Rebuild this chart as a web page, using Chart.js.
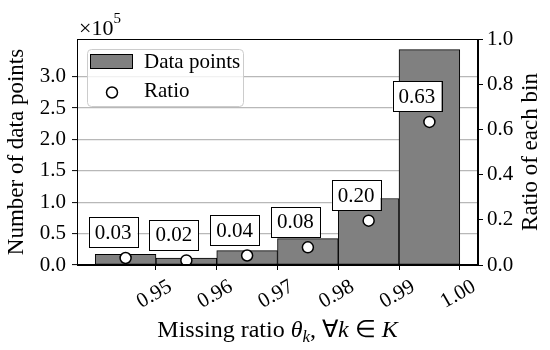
<!DOCTYPE html>
<html>
<head>
<meta charset="utf-8">
<script src="https://cdn.jsdelivr.net/npm/chart.js@4.4.0/dist/chart.umd.min.js"></script>
<style>
  html, body { margin: 0; padding: 0; background: #fff; }
  #wrap { width: 550px; height: 350px; }
</style>
</head>
<body>
<div id="wrap"><canvas id="chart" width="550" height="350"></canvas></div>
<script>
// Chart data
const binCenters = [0.945, 0.955, 0.965, 0.975, 0.985, 0.995];
const pointCounts = [17000, 11000, 23000, 42000, 106000, 343000];
const binRatios = [0.031, 0.020, 0.042, 0.078, 0.196, 0.633];
const xTickValues = [0.95, 0.96, 0.97, 0.98, 0.99, 1.00];
const countTickValues = [0, 50000, 100000, 150000, 200000, 250000, 300000];
const ratioTickValues = [0, 0.2, 0.4, 0.6, 0.8, 1.0];

const SERIF = "'Liberation Serif', 'Times New Roman', serif";
const BAR_GRAY = '#808080';

// Helpers
const setTicks = (values) => (scale) => {
    scale.ticks = values.map(v => ({ value: v }));
};

// draws a run of [text, font, dy] pieces starting at x
const drawRich = (ctx, parts, x, y) => {
    parts.forEach(([txt, font, dy]) => {
        ctx.font = font;
        ctx.fillText(txt, x, y + (dy || 0));
        x += ctx.measureText(txt).width;
    });
};
const richWidth = (ctx, parts) => {
    let w = 0;
    parts.forEach(([txt, font]) => {
        ctx.font = font;
        w += ctx.measureText(txt).width;
    });
    return w;
};

// Overlay: frame, value boxes, legend, extra titles
const overlayPlugin = {
    id: 'overlay',
    afterDatasetsDraw(chart) {
        const { ctx, chartArea: a } = chart;
        ctx.save();

        // full frame around plot
        ctx.strokeStyle = '#000';
        ctx.lineWidth = 1;
        ctx.strokeRect(a.left + 0.5, a.top + 0.5, a.right - a.left - 1, a.bottom - a.top - 1);

        // ratio value boxes
        const meta = chart.getDatasetMeta(1);
        ctx.font = `21px ${SERIF}`;
        ctx.textAlign = 'center';
        ctx.textBaseline = 'middle';
        meta.data.forEach((pt, i) => {
            const txt = binRatios[i].toFixed(2);
            const cx = pt.x - 12.5;
            const cy = pt.y - 25.5;
            const w = ctx.measureText(txt).width + 12;
            const h = 30;
            ctx.fillStyle = '#fff';
            ctx.fillRect(cx - w / 2, cy - h / 2, w, h);
            ctx.strokeRect(Math.round(cx - w / 2) + 0.5, Math.round(cy - h / 2) + 0.5, Math.round(w), h);
            ctx.fillStyle = '#000';
            ctx.fillText(txt, cx, cy + 1);
        });
        ctx.restore();
    },
    afterDraw(chart) {
        const { ctx, chartArea: a, scales } = chart;
        ctx.save();

        // legend
        const lx = 87, ly = 49, lw = 156, lh = 57;
        ctx.beginPath();
        ctx.roundRect(lx + 0.5, ly + 0.5, lw, lh, 4);
        ctx.fillStyle = 'rgba(255,255,255,0.8)';
        ctx.fill();
        ctx.strokeStyle = '#cccccc';
        ctx.lineWidth = 1;
        ctx.stroke();

        ctx.fillStyle = BAR_GRAY;
        ctx.fillRect(90, 54, 43, 15);
        ctx.strokeStyle = '#000';
        ctx.strokeRect(90.5, 54.5, 42, 14);

        ctx.beginPath();
        ctx.arc(112, 92.5, 5.5, 0, Math.PI * 2);
        ctx.fillStyle = '#fff';
        ctx.fill();
        ctx.lineWidth = 1.5;
        ctx.stroke();

        ctx.fillStyle = '#000';
        ctx.font = `21px ${SERIF}`;
        ctx.textAlign = 'left';
        ctx.textBaseline = 'middle';
        ctx.fillText('Data points', 144, 62);
        ctx.fillText('Ratio', 144, 91);

        // x tick labels, rotated and centred under the ticks
        const xs = scales.x;
        xTickValues.forEach(v => {
            const px = xs.getPixelForValue(v);
            ctx.save();
            ctx.translate(px - 2, 293.5);
            ctx.rotate(-Math.PI / 6);
            ctx.textAlign = 'center';
            ctx.textBaseline = 'middle';
            ctx.font = `21px ${SERIF}`;
            ctx.fillText(v.toFixed(2), 0, 1);
            ctx.restore();
        });

        // right axis title
        ctx.save();
        ctx.translate(531, (a.top + a.bottom) / 2);
        ctx.rotate(-Math.PI / 2);
        ctx.textAlign = 'center';
        ctx.textBaseline = 'middle';
        ctx.font = `23px ${SERIF}`;
        ctx.fillText('Ratio of each bin', 0, 0);
        ctx.restore();

        // x axis title with math parts
        const reg = `24px ${SERIF}`;
        const ita = `italic 24px ${SERIF}`;
        const sub = `italic 17px ${SERIF}`;
        const parts = [
            ['Missing ratio ', reg],
            ['\u03B8', ita],
            ['k', sub, 5],
            [', ', reg],
            ['\u2200', reg],
            ['k', ita],
            [' \u2208 ', reg],
            ['K', ita]
        ];
        ctx.textAlign = 'left';
        ctx.textBaseline = 'alphabetic';
        const tw = richWidth(ctx, parts);
        drawRich(ctx, parts, (a.left + a.right) / 2 - tw / 2, 337);

        // multiplier above left axis
        drawRich(ctx, [['\u00D710', `22px ${SERIF}`], ['5', `15px ${SERIF}`, -12]], 79, 35);

        ctx.restore();
    }
};

const ctx = document.getElementById('chart').getContext('2d');
const chart = new Chart(ctx, {
    data: {
        datasets: [{
            type: 'bar',
            label: 'Data points',
            data: binCenters.map((x, i) => ({ x, y: pointCounts[i] })),
            backgroundColor: BAR_GRAY,
            borderColor: '#000',
            borderWidth: 1,
            borderSkipped: false,
            barPercentage: 1,
            categoryPercentage: 1,
            xAxisID: 'x',
            yAxisID: 'y',
            order: 2
        }, {
            type: 'line',
            label: 'Ratio',
            data: binCenters.map((x, i) => ({ x, y: binRatios[i] })),
            showLine: false,
            pointRadius: 5.5,
            pointBackgroundColor: '#fff',
            pointBorderColor: '#000',
            pointBorderWidth: 1.5,
            xAxisID: 'x',
            yAxisID: 'y1',
            order: 1
        }]
    },
    options: {
        responsive: false,
        animation: false,
        layout: { padding: { top: 39, left: 0, right: 0, bottom: 0 } },
        plugins: {
            legend: { display: false },
            tooltip: { enabled: false }
        },
        scales: {
            x: {
                type: 'linear',
                min: 0.937,
                max: 1.003,
                offset: false,
                afterBuildTicks: setTicks(xTickValues),
                afterFit: (s) => { s.height = 85; },
                grid: { offset: false, drawOnChartArea: false, drawTicks: true, tickLength: 5, tickColor: '#000' },
                border: { display: true, color: '#000', width: 1 },
                ticks: { display: false, autoSkip: false }
            },
            y: {
                position: 'left',
                min: 0,
                max: 360000,
                afterBuildTicks: setTicks(countTickValues),
                afterFit: (s) => { s.width = 77; },
                grid: { color: '#b8b8b8', lineWidth: 1.2, tickLength: 5, tickColor: '#000', tickWidth: 1 },
                border: { display: true, color: '#000', width: 1 },
                ticks: {
                    padding: 6,
                    color: '#000',
                    font: { family: SERIF, size: 21 },
                    callback: (v) => (v / 1e5).toFixed(1)
                },
                title: {
                    display: true,
                    text: 'Number of data points',
                    color: '#000',
                    font: { family: SERIF, size: 23 },
                    padding: { top: 3, bottom: 0 }
                }
            },
            y1: {
                position: 'right',
                min: 0,
                max: 1,
                afterBuildTicks: setTicks(ratioTickValues),
                afterFit: (s) => { s.width = 72; },
                grid: { drawOnChartArea: false, tickLength: 5, tickColor: '#000', tickWidth: 1 },
                border: { display: true, color: '#000', width: 1 },
                ticks: {
                    padding: 4,
                    color: '#000',
                    font: { family: SERIF, size: 21 },
                    callback: (v) => v.toFixed(1)
                }
            }
        }
    },
    plugins: [overlayPlugin]
});
</script>
</body>
</html>
